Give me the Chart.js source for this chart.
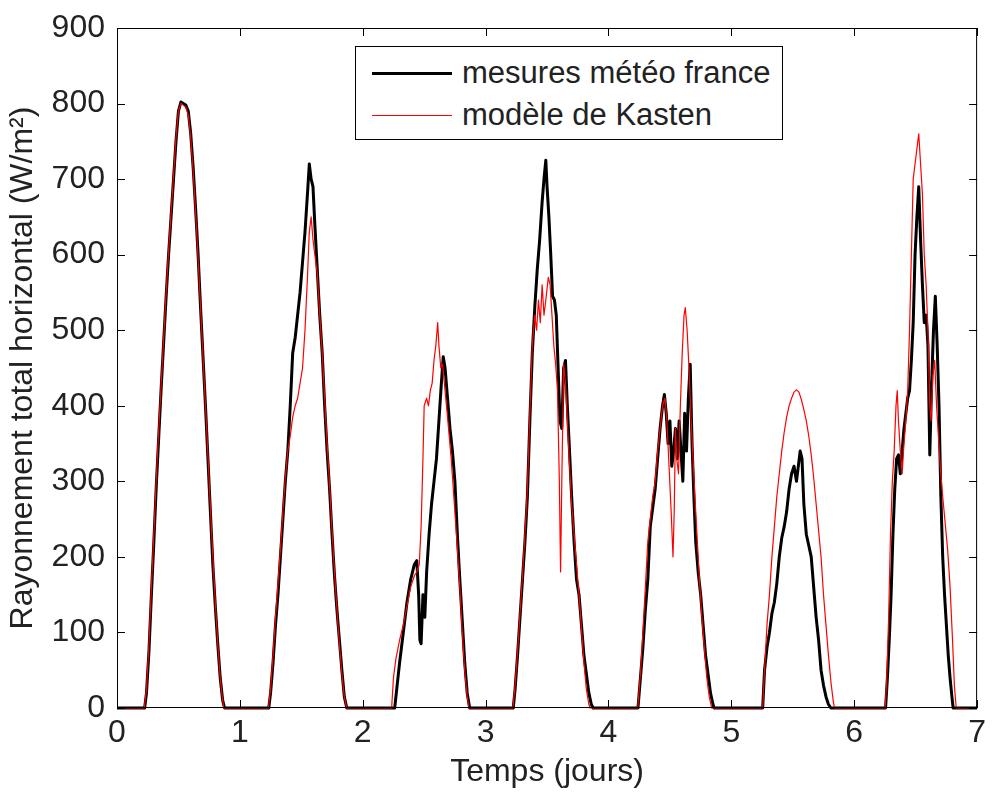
<!DOCTYPE html>
<html>
<head>
<meta charset="utf-8">
<script src="https://cdn.jsdelivr.net/npm/chart.js@4.4.1/dist/chart.umd.min.js"></script>
<style>
  html, body { margin: 0; padding: 0; background: #fff; }
  #zone { position: relative; width: 995px; height: 792px; }
  #legende {
    position: absolute; left: 355px; top: 46px; width: 426px; height: 92px;
    border: 1px solid #000; background: #fff;
    font-family: "Liberation Sans", Arial, sans-serif; font-size: 31px; color: #222;
  }
  .ligne { position: absolute; left: 0; height: 42px; display: flex; align-items: center; white-space: nowrap; }
  .trait { display: inline-block; width: 80px; margin-left: 16px; margin-right: 10px; }
</style>
</head>
<body>
<div id="zone">
  <canvas id="graphe"></canvas>
  <div id="legende">
    <div class="ligne" style="top:5px"><span class="trait" style="border-top:3px solid #000"></span>mesures météo france</div>
    <div class="ligne" style="top:47px"><span class="trait" style="border-top:1px solid #ff0000"></span>modèle de Kasten</div>
  </div>
</div>
<script>
// temps en jours, rayonnement en W/m²
const tempsMesures = [
  0, 0.225, 0.24, 0.26, 0.28, 0.30, 0.32, 0.34, 0.36, 0.38, 0.40, 0.42, 0.44, 0.46, 0.48, 0.50, 0.52, 0.54, 0.56, 0.58, 0.60, 0.62, 0.64, 0.66, 0.68, 0.70, 0.72, 0.74, 0.76, 0.78, 0.80, 0.82, 0.84, 0.86, 0.875,
  1.235, 1.25, 1.27, 1.29, 1.31, 1.33, 1.35, 1.37, 1.39, 1.41, 1.43, 1.45, 1.47, 1.49, 1.51, 1.53, 1.55, 1.565, 1.58, 1.595, 1.61, 1.63, 1.65, 1.67, 1.69, 1.71, 1.73, 1.75, 1.77, 1.79, 1.81, 1.83, 1.85, 1.87,
  2.26, 2.28, 2.30, 2.33, 2.36, 2.39, 2.42, 2.44, 2.455, 2.465, 2.475, 2.49, 2.505, 2.52, 2.54, 2.56, 2.58, 2.60, 2.62, 2.64, 2.655, 2.67, 2.69, 2.71, 2.73, 2.75, 2.77, 2.79, 2.81, 2.83, 2.85, 2.87,
  3.225, 3.24, 3.26, 3.28, 3.30, 3.32, 3.34, 3.36, 3.38, 3.40, 3.42, 3.44, 3.46, 3.475, 3.49, 3.50, 3.515, 3.53, 3.545, 3.56, 3.575, 3.59, 3.605, 3.62, 3.635, 3.65, 3.665, 3.68, 3.70, 3.72, 3.74, 3.76, 3.78, 3.80, 3.82, 3.84, 3.86, 3.875,
  4.24, 4.26, 4.28, 4.30, 4.32, 4.34, 4.36, 4.38, 4.40, 4.42, 4.44, 4.455, 4.47, 4.485, 4.50, 4.515, 4.53, 4.545, 4.56, 4.575, 4.59, 4.605, 4.62, 4.635, 4.65, 4.665, 4.68, 4.695, 4.71, 4.73, 4.75, 4.77, 4.79, 4.81, 4.83, 4.85, 4.86,
  5.255, 5.27, 5.29, 5.31, 5.33, 5.35, 5.37, 5.39, 5.41, 5.43, 5.45, 5.47, 5.49, 5.51, 5.53, 5.545, 5.56, 5.575, 5.59, 5.61, 5.63, 5.65, 5.67, 5.69, 5.71, 5.73, 5.75, 5.77, 5.79, 5.81,
  6.255, 6.27, 6.285, 6.30, 6.315, 6.33, 6.345, 6.36, 6.375, 6.39, 6.405, 6.42, 6.435, 6.45, 6.465, 6.48, 6.495, 6.51, 6.525, 6.54, 6.555, 6.57, 6.585, 6.60, 6.615, 6.63, 6.645, 6.66, 6.675, 6.69, 6.705, 6.72, 6.735, 6.75, 6.765, 6.78, 6.795, 6.805, 7
];
const mesures = [
  0, 0, 20, 75, 150, 220, 295, 360, 425, 485, 545, 600, 650, 700, 750, 790, 802, 800, 798, 790, 760, 715, 660, 600, 530, 465, 400, 330, 260, 190, 135, 85, 40, 10, 0,
  0, 20, 60, 110, 150, 200, 250, 300, 340, 400, 470, 490, 520, 550, 590, 630, 680, 720, 700, 690, 640, 580, 520, 470, 400, 340, 290, 230, 175, 130, 90, 50, 15, 0,
  0, 30, 60, 100, 140, 170, 190, 195, 150, 90, 85, 150, 120, 180, 230, 270, 300, 330, 380, 430, 465, 450, 410, 370, 340, 300, 230, 170, 115, 60, 20, 0,
  0, 25, 70, 120, 170, 220, 280, 380, 470, 530, 580, 620, 670, 700, 725, 690, 650, 600, 545, 540, 520, 450, 380, 370, 450, 460, 400, 350, 280, 220, 170, 150, 110, 70, 45, 20, 5, 0,
  0, 40, 80, 130, 170, 240, 265, 290, 330, 370, 400, 415, 390, 350, 380, 320, 340, 370, 330, 380, 340, 300, 390, 340, 410, 455, 350, 280, 220, 180, 150, 110, 70, 45, 20, 5, 0,
  0, 50, 80, 100, 125, 140, 165, 200, 225, 240, 260, 290, 310, 320, 300, 320, 340, 330, 270, 230, 215, 200, 160, 120, 90, 50, 30, 15, 5, 0,
  0, 40, 90, 150, 230, 290, 330, 335, 310, 340, 370, 390, 410, 420, 460, 510, 600, 650, 690, 620, 560, 510, 520, 480, 335, 430, 500, 545, 480, 400, 280, 200, 150, 110, 70, 40, 15, 0, 0
];

const tempsKasten = [
  0, 0.222, 0.24, 0.26, 0.28, 0.30, 0.32, 0.34, 0.36, 0.38, 0.40, 0.42, 0.44, 0.46, 0.48, 0.50, 0.52, 0.54, 0.56, 0.58, 0.60, 0.62, 0.64, 0.66, 0.68, 0.70, 0.72, 0.74, 0.76, 0.78, 0.80, 0.82, 0.84, 0.86, 0.87,
  1.232, 1.25, 1.27, 1.29, 1.31, 1.33, 1.35, 1.37, 1.39, 1.41, 1.43, 1.45, 1.47, 1.49, 1.51, 1.53, 1.55, 1.565, 1.58, 1.595, 1.61, 1.63, 1.65, 1.67, 1.69, 1.71, 1.73, 1.75, 1.77, 1.79, 1.81, 1.83, 1.85, 1.87,
  2.235, 2.25, 2.27, 2.30, 2.33, 2.36, 2.39, 2.42, 2.44, 2.46, 2.475, 2.49, 2.50, 2.52, 2.535, 2.55, 2.565, 2.58, 2.595, 2.61, 2.62, 2.635, 2.65, 2.67, 2.69, 2.72, 2.76, 2.79, 2.81, 2.83, 2.85, 2.865,
  3.222, 3.24, 3.26, 3.28, 3.30, 3.32, 3.34, 3.36, 3.38, 3.40, 3.415, 3.43, 3.445, 3.46, 3.475, 3.49, 3.51, 3.525, 3.54, 3.555, 3.57, 3.585, 3.60, 3.61, 3.62, 3.635, 3.65, 3.665, 3.68, 3.70, 3.72, 3.74, 3.76, 3.78, 3.80, 3.82, 3.84, 3.85,
  4.238, 4.26, 4.28, 4.30, 4.32, 4.34, 4.36, 4.38, 4.40, 4.42, 4.44, 4.46, 4.475, 4.49, 4.51, 4.525, 4.535, 4.545, 4.555, 4.57, 4.585, 4.60, 4.615, 4.625, 4.64, 4.655, 4.67, 4.685, 4.70, 4.72, 4.74, 4.76, 4.78, 4.80, 4.82, 4.84,
  5.255, 5.27, 5.29, 5.31, 5.33, 5.35, 5.37, 5.39, 5.41, 5.43, 5.45, 5.47, 5.49, 5.51, 5.53, 5.55, 5.57, 5.59, 5.61, 5.63, 5.65, 5.67, 5.69, 5.71, 5.73, 5.75, 5.77, 5.79, 5.81, 5.83, 5.84,
  6.252, 6.265, 6.28, 6.295, 6.31, 6.325, 6.34, 6.35, 6.36, 6.375, 6.39, 6.405, 6.42, 6.435, 6.45, 6.465, 6.48, 6.495, 6.51, 6.525, 6.54, 6.555, 6.57, 6.585, 6.60, 6.615, 6.625, 6.64, 6.655, 6.67, 6.685, 6.70, 6.72, 6.74, 6.76, 6.78, 6.80, 6.815, 6.83, 7
];
const kasten = [
  0, 0, 25, 85, 160, 230, 305, 370, 430, 490, 550, 605, 655, 705, 755, 790, 800, 798, 795, 785, 755, 710, 655, 595, 530, 465, 400, 335, 265, 200, 140, 85, 40, 10, 0,
  0, 25, 70, 120, 165, 210, 260, 305, 340, 360, 385, 400, 410, 430, 450, 500, 570, 630, 650, 620, 600, 575, 520, 470, 410, 350, 295, 235, 180, 130, 85, 45, 15, 0,
  0, 40, 65, 90, 110, 135, 160, 175, 180, 190, 240, 330, 400, 410, 400, 420, 430, 460, 480, 510, 480, 450, 455, 420, 385, 330, 236, 160, 100, 50, 15, 0,
  0, 30, 75, 125, 175, 230, 290, 390, 480, 520, 500, 540, 510, 560, 520, 540, 570, 560, 520, 480, 455, 420, 300, 180, 300, 455, 430, 380, 330, 270, 230, 190, 150, 105, 60, 25, 5, 0,
  0, 45, 100, 160, 220, 250, 280, 300, 340, 370, 400, 410, 380, 330, 260, 200, 260, 370, 330, 310, 400, 470, 520, 530, 500, 450, 390, 340, 290, 230, 170, 120, 80, 40, 15, 0,
  0, 50, 110, 150, 200, 240, 280, 310, 340, 365, 385, 400, 410, 418, 421, 418, 408, 395, 380, 360, 335, 305, 270, 235, 200, 150, 110, 70, 35, 8, 0,
  0, 40, 120, 230, 300, 340, 400, 420, 380, 340, 310, 350, 380, 420, 500, 600, 700, 720, 740, 760, 720, 680, 600, 560, 500, 400, 380, 440, 460, 400, 360, 320, 280, 245, 210, 160, 90, 30, 0, 0
];

const ticksX = [0, 1, 2, 3, 4, 5, 6, 7];
const ticksY = [0, 100, 200, 300, 400, 500, 600, 700, 800, 900];

const police = { family: '"Liberation Sans", Arial, sans-serif', size: 32, lineHeight: 1 };
const couleurTexte = '#222';

// cadre complet avec graduations vers l'intérieur (style matlab)
const cadre = {
  id: 'cadre',
  afterDraw(chart) {
    const { ctx, chartArea: a, scales: { x, y } } = chart;
    ctx.save();
    ctx.strokeStyle = '#000';
    ctx.lineWidth = 1;
    ctx.strokeRect(a.left + 0.5, a.top + 0.5, a.right - a.left - 1, a.bottom - a.top - 1);
    ctx.beginPath();
    ticksX.forEach(v => {
      const px = Math.round(x.getPixelForValue(v)) + 0.5;
      ctx.moveTo(px, a.bottom); ctx.lineTo(px, a.bottom - 8);
      ctx.moveTo(px, a.top); ctx.lineTo(px, a.top + 8);
    });
    ticksY.forEach(v => {
      const py = Math.round(y.getPixelForValue(v)) + 0.5;
      ctx.moveTo(a.left, py); ctx.lineTo(a.left + 8, py);
      ctx.moveTo(a.right, py); ctx.lineTo(a.right - 8, py);
    });
    ctx.stroke();
    ctx.restore();
  }
};

const canvas = document.getElementById('graphe');
canvas.style.width = '995px';
canvas.style.height = '792px';

new Chart(canvas, {
  type: 'line',
  data: {
    datasets: [
      {
        label: 'mesures météo france',
        data: tempsMesures.map((t, i) => ({ x: t, y: mesures[i] })),
        borderColor: '#000000',
        borderWidth: 3,
        order: 2
      },
      {
        label: 'modèle de Kasten',
        data: tempsKasten.map((t, i) => ({ x: t, y: kasten[i] })),
        borderColor: '#ff0000',
        borderWidth: 1.2,
        order: 1
      }
    ]
  },
  options: {
    responsive: true,
    maintainAspectRatio: false,
    animation: false,
    clip: 3,
    layout: { padding: { top: 25, right: 8, left: 0, bottom: 0 } },
    elements: {
      point: { radius: 0 },
      line: { tension: 0, borderJoinStyle: 'round' }
    },
    plugins: {
      legend: { display: false },
      tooltip: { enabled: false }
    },
    scales: {
      x: {
        type: 'linear',
        min: 0,
        max: 7,
        afterBuildTicks: s => { s.ticks = ticksX.map(v => ({ value: v })); },
        afterFit: s => { s.height = 84; },
        grid: { display: false, drawTicks: false },
        border: { display: false },
        ticks: { font: police, color: couleurTexte, padding: 9, maxRotation: 0 },
        title: { display: true, text: 'Temps (jours)', font: police, color: couleurTexte, padding: { top: 0, bottom: 4 } }
      },
      y: {
        min: 0,
        max: 900,
        afterBuildTicks: s => { s.ticks = ticksY.map(v => ({ value: v })); },
        afterFit: s => { s.width = 117; },
        grid: { display: false, drawTicks: false },
        border: { display: false },
        ticks: { font: police, color: couleurTexte, padding: 12 },
        title: { display: true, text: 'Rayonnement total horizontal (W/m²)', font: police, color: couleurTexte, padding: { top: 7, bottom: 0 } }
      }
    }
  },
  plugins: [cadre]
});
</script>
</body>
</html>
